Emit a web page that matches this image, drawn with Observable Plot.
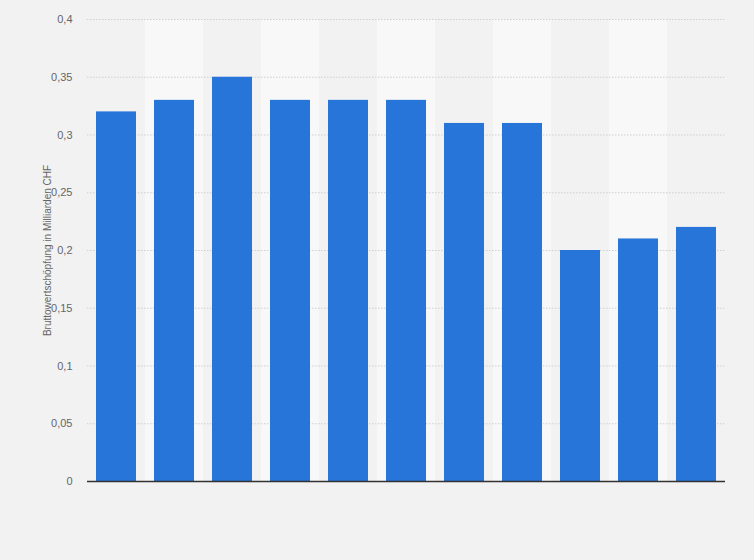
<!DOCTYPE html>
<html>
<head>
<meta charset="utf-8">
<script src="https://cdn.jsdelivr.net/npm/d3@7"></script>
<script src="https://cdn.jsdelivr.net/npm/@observablehq/plot@0.6"></script>
<style>
  html, body { margin: 0; padding: 0; background: #f2f2f2; }
  #chart { width: 754px; height: 560px; }
  svg { font-family: "Liberation Sans", Arial, sans-serif; }
</style>
</head>
<body>
<div id="chart"></div>
<script>
const categories = ["1","2","3","4","5","6","7","8","9","10","11"];
const values = [0.32, 0.33, 0.35, 0.33, 0.33, 0.33, 0.31, 0.31, 0.20, 0.21, 0.22];
const yTicks = [0, 0.05, 0.1, 0.15, 0.2, 0.25, 0.3, 0.35, 0.4];
const yLabel = "Bruttowertschöpfung in Milliarden CHF";

const data = categories.map((c, i) => ({cat: c, value: values[i]}));
const bands = categories.filter((c, i) => i % 2 === 1).map(c => ({cat: c}));
const fmt = v => String(v).replace(".", ",");

const chart = Plot.plot({
  width: 754,
  height: 560,
  marginTop: 19,
  marginBottom: 79,
  marginLeft: 87,
  marginRight: 29,
  style: {background: "#f2f2f2", fontFamily: "'Liberation Sans', Arial, sans-serif"},
  x: {domain: categories, padding: 0, axis: null},
  y: {domain: [0, 0.4], ticks: yTicks},
  marks: [
    Plot.barY(bands, {x: "cat", y1: 0, y2: 0.4, fill: "#f8f8f8"}),
    Plot.gridY(yTicks.filter(t => t > 0), {stroke: "#cfcfcf", strokeOpacity: 1, strokeDasharray: "1.5,1.5"}),
    Plot.barY(data, {x: "cat", y: "value", fill: "#2775d9", insetLeft: 9, insetRight: 9}),
    Plot.ruleY([0], {stroke: "#333", strokeWidth: 1.5}),
    Plot.axisY({
      ticks: yTicks, tickSize: 0, tickPadding: 15, tickFormat: fmt,
      fontSize: 11, color: "#666",
      label: yLabel, labelAnchor: "center", labelArrow: "none", labelOffset: 44
    })
  ]
});
chart.querySelectorAll("[aria-label='y-axis label'] text").forEach(t => { t.setAttribute("font-size", "10"); t.setAttribute("fill", "#666"); });
document.getElementById("chart").appendChild(chart);
</script>
</body>
</html>
